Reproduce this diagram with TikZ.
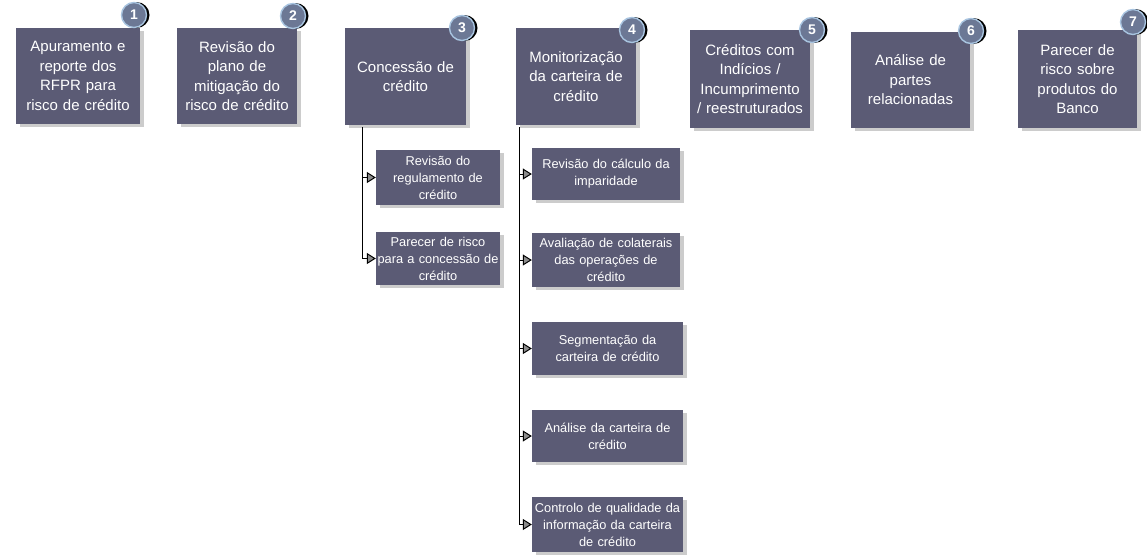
\documentclass[tikz,border=0pt]{standalone}
\usepackage{fontspec}
\setmainfont{Liberation Sans}
\usetikzlibrary{arrows.meta,shadows}
\definecolor{boxfill}{HTML}{5B5B75}
\definecolor{circfill}{HTML}{6C7895}
\definecolor{circedge}{HTML}{A8C4E0}
\begin{document}
\begin{tikzpicture}[x=1pt,y=-1pt,
  topbox/.style={fill=boxfill, text=white, align=center, inner sep=0.5pt,
    font=\fontsize{15}{19.5}\selectfont,
    drop shadow={fill=black!20, shadow xshift=4pt, shadow yshift=-3pt, opacity=1}},
  subbox/.style={fill=boxfill, text=white, align=center, inner sep=0.5pt,
    font=\fontsize{12.8}{17}\selectfont,
    drop shadow={fill=black!20, shadow xshift=4pt, shadow yshift=-3pt, opacity=1}},
  badge/.style={circle, fill=circfill, draw=circedge, line width=1.4pt,
    minimum size=25pt, inner sep=0pt, text=white,
    font=\bfseries\fontsize{14}{14}\selectfont},
  badgeshadow/.style={circle, fill=black, minimum size=26pt, inner sep=0pt},
  arr/.style={draw=black, line width=1pt,
    -{Triangle[width=11pt,length=9pt,fill=black!45]}}
]
\useasboundingbox (0,0) rectangle (1147,557);

% top boxes
\node[topbox, minimum width=124pt, minimum height=96pt, text width=123pt] (b1) at (78,76)
  {Apuramento e\\reporte dos\\RFPR para\\risco de crédito};
\node[topbox, minimum width=120pt, minimum height=96pt, text width=119pt] (b2) at (237,76)
  {Revisão do\\plano de\\mitigação do\\risco de crédito};
\node[topbox, minimum width=121pt, minimum height=97pt, text width=120pt] (b3) at (405.5,76.5)
  {Concessão de\\crédito\\[8pt]};
\node[topbox, minimum width=120pt, minimum height=97pt, text width=119pt] (b4) at (576,76.5)
  {Monitorização\\da carteira de\\crédito};
\node[topbox, minimum width=120pt, minimum height=98pt, text width=119pt] (b5) at (750,79)
  {Créditos com\\Indícios /\\Incumprimento\\/ reestruturados};
\node[topbox, minimum width=119pt, minimum height=96pt, text width=118pt] (b6) at (910.5,80)
  {Análise de\\partes\\relacionadas};
\node[topbox, minimum width=119pt, minimum height=98pt, text width=118pt] (b7) at (1077.5,79)
  {Parecer de\\risco sobre\\produtos do\\Banco};

% badges
\foreach \n/\x/\y in {1/134/15, 2/293/16, 3/462/28, 4/632/30, 5/812/30, 6/971/31, 7/1133/22}{
  \node[badgeshadow] (s\n) at (\x+2.5,\y) {};
  \node[badge] (c\n) at (\x,\y) {\n};
}

% sub boxes under 3
\node[subbox, minimum width=124pt, minimum height=55pt, text width=123pt] (s31) at (438,177.5)
  {Revisão do\\regulamento de\\crédito};
\node[subbox, minimum width=124pt, minimum height=53pt, text width=123pt] (s32) at (438,258.5)
  {Parecer de risco\\para a concessão de\\crédito};

% sub boxes under 4
\node[subbox, minimum width=148pt, minimum height=52pt, text width=147pt] (s41) at (606,174)
  {Revisão do cálculo da\\imparidade};
\node[subbox, minimum width=148pt, minimum height=54pt, text width=147pt] (s42) at (606,260)
  {Avaliação de colaterais\\das operações de\\crédito};
\node[subbox, minimum width=151pt, minimum height=53pt, text width=150pt] (s43) at (607.5,348.5)
  {Segmentação da\\carteira de crédito};
\node[subbox, minimum width=151pt, minimum height=52pt, text width=150pt] (s44) at (607.5,436)
  {Análise da carteira de\\crédito};
\node[subbox, minimum width=151pt, minimum height=55pt, text width=150pt] (s45) at (607.5,524.5)
  {Controlo de qualidade da\\informação da carteira\\de crédito};

% connectors
\coordinate (t3) at (362,127);
\coordinate (t4) at (519,127);
\draw[arr] (t3) |- (s31.west);
\draw[arr] (t3) |- (s32.west);
\foreach \s in {s41,s42,s43,s44,s45}
  \draw[arr] (t4) |- (\s.west);
\end{tikzpicture}
\end{document}
